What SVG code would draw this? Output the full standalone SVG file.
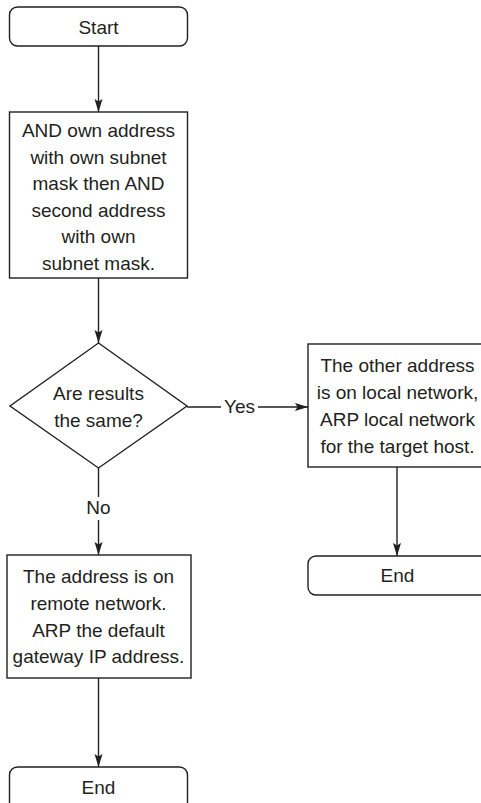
<svg xmlns="http://www.w3.org/2000/svg" width="481" height="803" viewBox="0 0 481 803">
  <defs>
    <marker id="arr" markerUnits="userSpaceOnUse" markerWidth="14" markerHeight="10" refX="13" refY="4" orient="auto">
      <path d="M0,0 L13,4 L0,8 L2.5,4 z" fill="#231f20"/>
    </marker>
    <style>
      .shape { fill: #ffffff; stroke: #231f20; stroke-width: 1.4; }
      .conn { fill: none; stroke: #231f20; stroke-width: 1.4; }
      text { font-family: "Liberation Sans", Arial, sans-serif; font-size: 19px; fill: #231f20; text-anchor: middle; }
    </style>
  </defs>
  <rect width="481" height="803" fill="#ffffff"/>

  <g id="connectors">
    <path class="conn" d="M98.5,46 V112" marker-end="url(#arr)"/>
    <path class="conn" d="M98.5,278 V343" marker-end="url(#arr)"/>
    <path class="conn" d="M187,407 H221"/>
    <path class="conn" d="M258,407 H308" marker-end="url(#arr)"/>
    <path class="conn" d="M98.5,468 V497"/>
    <path class="conn" d="M98.5,520 V555" marker-end="url(#arr)"/>
    <path class="conn" d="M397,467 V556" marker-end="url(#arr)"/>
    <path class="conn" d="M98.5,678 V767" marker-end="url(#arr)"/>
    <text x="239.5" y="413">Yes</text>
    <text x="98.5" y="514">No</text>
  </g>

  <g id="start">
    <rect class="shape" x="9.5" y="7" width="178" height="39" rx="8"/>
    <text x="98.5" y="34">Start</text>
  </g>

  <g id="and-step">
    <rect class="shape" x="9.5" y="112" width="178" height="166"/>
    <text x="98.5" y="137">AND own address</text>
    <text x="98.5" y="163.5">with own subnet</text>
    <text x="98.5" y="190">mask then AND</text>
    <text x="98.5" y="216.5">second address</text>
    <text x="98.5" y="243">with own</text>
    <text x="98.5" y="269.5">subnet mask.</text>
  </g>

  <g id="decision">
    <polygon class="shape" points="98.5,343 187,406 98.5,468 10,406"/>
    <text x="98.5" y="400">Are results</text>
    <text x="98.5" y="427">the same?</text>
  </g>

  <g id="local">
    <rect class="shape" x="308" y="344" width="185" height="123"/>
    <text x="397.5" y="372">The other address</text>
    <text x="397.5" y="399">is on local network,</text>
    <text x="397.5" y="426">ARP local network</text>
    <text x="397.5" y="453">for the target host.</text>
  </g>

  <g id="end-right">
    <rect class="shape" x="308" y="556" width="185" height="39" rx="8"/>
    <text x="397.5" y="582">End</text>
  </g>

  <g id="remote">
    <rect class="shape" x="7" y="555" width="184" height="123"/>
    <text x="98.5" y="583">The address is on</text>
    <text x="98.5" y="610">remote network.</text>
    <text x="98.5" y="637">ARP the default</text>
    <text x="98.5" y="663">gateway IP address.</text>
  </g>

  <g id="end-left">
    <rect class="shape" x="9.5" y="767" width="178" height="46" rx="8"/>
    <text x="98.5" y="794">End</text>
  </g>
</svg>
